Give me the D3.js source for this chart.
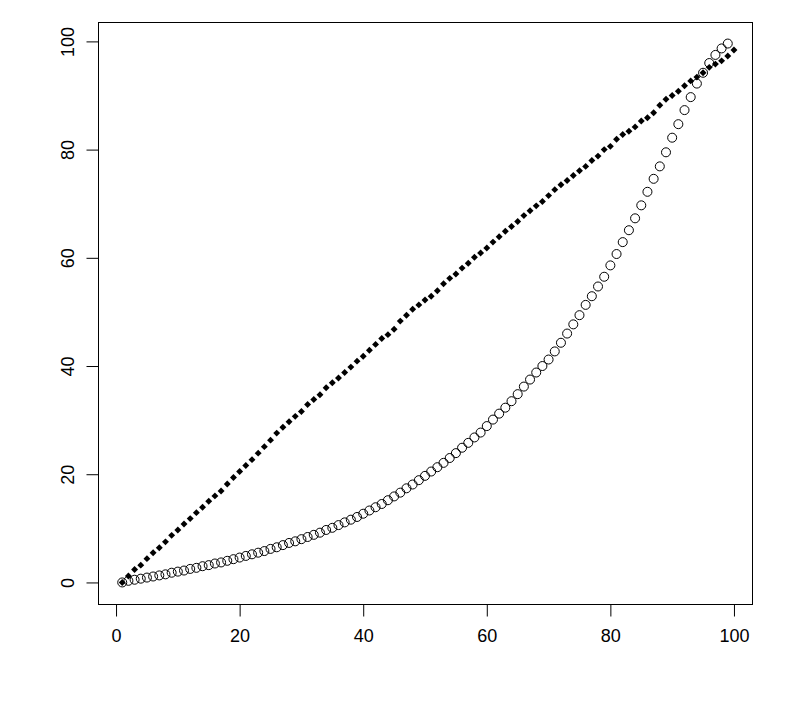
<!DOCTYPE html>
<html>
<head>
<meta charset="utf-8">
<script src="https://cdn.jsdelivr.net/npm/d3@7"></script>
<style>
  body { margin: 0; background: #fff; }
  svg { display: block; }
</style>
</head>
<body>
<div id="chart-container"></div>
<script>
// open circles (first plot call), x = 1..99
const circleX = d3.range(1, 100);
const circleY = [
  0.0, 0.3, 0.5, 0.7, 0.9, 1.1, 1.3, 1.5, 1.8, 2.0,
  2.2, 2.5, 2.7, 3.0, 3.2, 3.5, 3.7, 4.0, 4.3, 4.6,
  4.9, 5.2, 5.5, 5.8, 6.2, 6.5, 6.9, 7.3, 7.6, 8.0,
  8.4, 8.8, 9.2, 9.7, 10.1, 10.6, 11.1, 11.6, 12.1, 12.7,
  13.3, 13.9, 14.5, 15.2, 15.9, 16.6, 17.4, 18.1, 18.9, 19.7,
  20.5, 21.3, 22.1, 23.0, 23.9, 24.9, 25.8, 26.8, 27.7, 28.9,
  30.1, 31.2, 32.3, 33.5, 34.8, 36.2, 37.5, 38.8, 40.0, 41.2,
  42.7, 44.3, 46.0, 47.7, 49.4, 51.3, 52.9, 54.7, 56.5, 58.6,
  60.7, 62.9, 65.1, 67.3, 69.7, 72.2, 74.6, 76.9, 79.5, 82.2,
  84.7, 87.3, 89.7, 92.2, 94.2, 96.0, 97.5, 98.7, 99.6
];

// filled diamonds (added with points()), x = 1..100
const diamondX = d3.range(1, 101);
const diamondY = [
  0.0, 1.2, 2.4, 3.2, 4.4, 5.5, 6.4, 7.5, 8.7, 9.7,
  10.8, 11.8, 12.9, 13.9, 15.0, 16.0, 16.9, 18.2, 19.4, 20.5,
  21.6, 22.7, 23.9, 25.1, 26.3, 27.6, 28.7, 29.7, 30.7, 31.6,
  32.9, 33.8, 34.7, 36.0, 36.9, 37.8, 38.8, 39.8, 40.9, 41.8,
  42.9, 44.0, 45.1, 45.8, 46.8, 48.3, 49.4, 50.5, 51.3, 52.2,
  52.9, 53.9, 55.2, 56.2, 57.0, 58.1, 59.0, 60.1, 60.9, 61.8,
  62.9, 63.9, 64.9, 65.8, 66.7, 67.8, 68.7, 69.6, 70.4, 71.5,
  72.6, 73.5, 74.3, 75.2, 76.1, 76.9, 78.0, 78.8, 80.0, 80.6,
  81.9, 82.8, 83.4, 84.2, 85.3, 85.9, 86.8, 88.2, 89.3, 90.0,
  90.8, 91.8, 92.7, 93.4, 94.2, 95.2, 95.8, 96.4, 97.3, 98.4
];

const xTicks = [0, 20, 40, 60, 80, 100];
const yTicks = [0, 20, 40, 60, 80, 100];

const width = 803;
const height = 727;
const plot = { left: 98, right: 752, top: 22, bottom: 604 };
const labelFont = 'Liberation Sans, Arial, sans-serif';

// R style limits: data range of the first plot call plus 4% each side
function padded(values) {
  let [lo, hi] = d3.extent(values);
  let pad = (hi - lo) * 0.04;
  return [lo - pad, hi + pad];
}

const svg = d3.select("#chart-container").append("svg")
  .attr("width", width).attr("height", height);

svg.append("rect").attr("width", width).attr("height", height).attr("fill", "#fff");

const x = d3.scaleLinear().domain(padded(circleX)).range([plot.left, plot.right]);
const y = d3.scaleLinear().domain(padded(circleY)).range([plot.bottom, plot.top]);

// x axis
const xAxis = svg.append("g")
  .attr("transform", `translate(0, ${plot.bottom + 0.5})`)
  .call(d3.axisBottom(x).tickValues(xTicks).tickSize(12).tickPadding(13).tickFormat(d3.format("d")));
xAxis.select(".domain").remove();
xAxis.selectAll(".tick line").attr("stroke", "#000");
xAxis.selectAll(".tick text")
  .attr("font-family", labelFont).attr("font-size", 18).attr("fill", "#000");

// y axis, labels rotated like R's las=0
const yAxis = svg.append("g")
  .attr("transform", `translate(${plot.left + 0.5}, 0)`)
  .call(d3.axisLeft(y).tickValues(yTicks).tickSize(12).tickFormat(d3.format("d")));
yAxis.select(".domain").remove();
yAxis.selectAll(".tick line").attr("stroke", "#000");
yAxis.selectAll(".tick text")
  .attr("x", null).attr("dy", null)
  .attr("text-anchor", "middle")
  .attr("font-family", labelFont).attr("font-size", 18).attr("fill", "#000")
  .attr("transform", "translate(-25, 0) rotate(-90)");

// box
svg.append("rect")
  .attr("x", plot.left + 0.5).attr("y", plot.top + 0.5)
  .attr("width", plot.right - plot.left).attr("height", plot.bottom - plot.top)
  .attr("fill", "none").attr("stroke", "#000").attr("stroke-width", 1);

// open circles
svg.append("g").selectAll("circle")
  .data(circleX.map((d, i) => [d, circleY[i]]))
  .enter().append("circle")
  .attr("cx", d => x(d[0]))
  .attr("cy", d => y(d[1]))
  .attr("r", 4.5)
  .attr("fill", "none")
  .attr("stroke", "#000")
  .attr("stroke-width", 1);

// filled diamonds
const diamond = d3.symbol().type(d3.symbolSquare).size(24);
svg.append("g").selectAll("path")
  .data(diamondX.map((d, i) => [d, diamondY[i]]))
  .enter().append("path")
  .attr("d", diamond)
  .attr("transform", d => `translate(${x(d[0])}, ${y(d[1])}) rotate(45)`)
  .attr("fill", "#000");
</script>
</body>
</html>
